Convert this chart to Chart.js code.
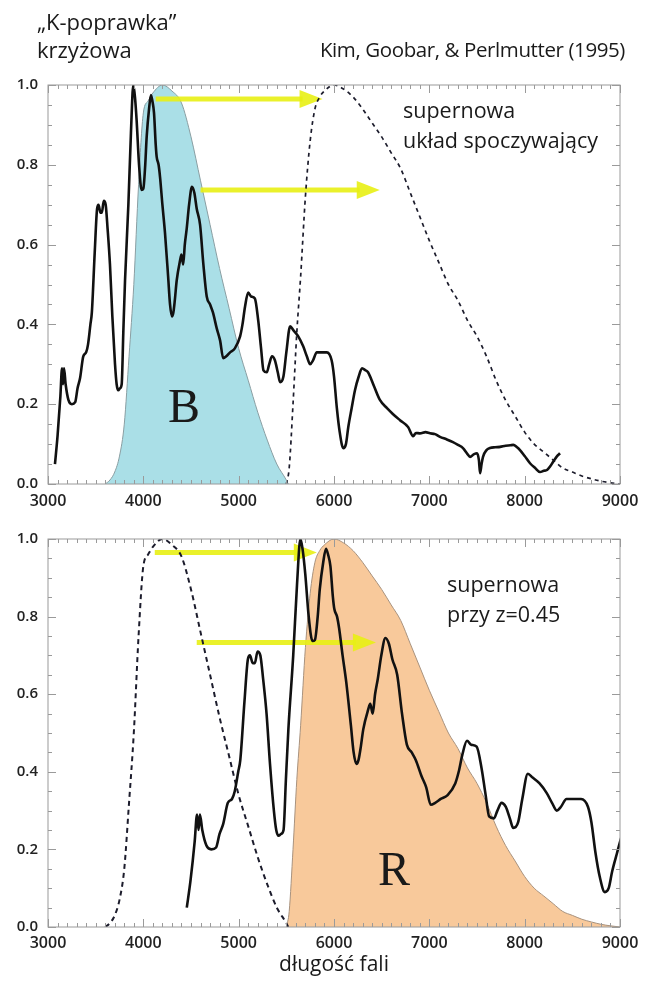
<!DOCTYPE html>
<html lang="pl">
<head>
<meta charset="utf-8">
<script src="https://cdn.jsdelivr.net/npm/chart.js@4/dist/chart.umd.min.js"></script>
<style>
  body { margin: 0; background: #fff; }
  #wrap { position: relative; width: 653px; height: 983px; overflow: hidden; font-family: "Open Sans", sans-serif; color: #1a1a1a; }
  canvas { position: absolute; left: 0; }
  #top { top: 0; }
  #bottom { top: 520px; }
  .txt { position: absolute; z-index: 2; white-space: nowrap; }
  .big { font-family: "Liberation Serif", serif; font-size: 48px; line-height: 1; transform: translate(-50%, -50%); }
</style>
</head>
<body>
<div id="wrap">
  <canvas id="top" width="653" height="520"></canvas>
  <canvas id="bottom" width="653" height="463"></canvas>

  <div class="txt" style="left:37px; top:7px; font-size:22px; line-height:28px;">„K-poprawka”<br>krzyżowa</div>
  <div class="txt" style="right:28px; top:35px; font-size:20.5px; line-height:28px; letter-spacing:-0.4px;">Kim, Goobar, &amp; Perlmutter (1995)</div>
  <div class="txt" style="left:403px; top:95px; font-size:21.5px; line-height:30px;">supernowa<br>układ spoczywający</div>
  <div class="txt" style="left:447px; top:569px; font-size:21.5px; line-height:30px;">supernowa<br>przy z=0.45</div>
  <div class="txt big" style="left:184px; top:406px;">B</div>
  <div class="txt big" style="left:394px; top:869px;">R</div>
</div>

<script>
// --- widmo supernowej w układzie spoczynkowym (Å, strumień względny) ---
const specWave = [3073, 3100, 3130, 3147, 3158, 3168, 3185, 3215, 3250, 3285, 3310, 3336, 3370, 3400, 3420, 3445, 3460, 3490, 3515, 3530,
  3550, 3565, 3585, 3605, 3625, 3650, 3675, 3703, 3720, 3737, 3755, 3773, 3790, 3808, 3843, 3870, 3895, 3912, 3930, 3955,
  3982, 4000, 4020, 4035, 4060, 4080, 4095, 4112, 4130, 4140, 4160, 4175, 4200, 4227, 4260, 4280, 4300, 4315, 4330, 4350,
  4385, 4400, 4418, 4435, 4455, 4480, 4510, 4535, 4560, 4595, 4630, 4665, 4700, 4730, 4770, 4805, 4838, 4870, 4910, 4960,
  5015, 5040, 5067, 5100, 5130, 5170, 5205, 5235, 5260, 5295, 5320, 5350, 5380, 5410, 5435, 5470, 5500, 5540, 5575, 5625,
  5677, 5715, 5750, 5780, 5820, 5870, 5925, 5975, 6000, 6030, 6060, 6097, 6125, 6150, 6185, 6220, 6260, 6294, 6330, 6357,
  6420, 6483, 6556, 6620, 6692, 6777, 6830, 6860, 6902, 6960, 7007, 7060, 7112, 7180, 7248, 7300, 7353, 7400, 7427, 7470,
  7500, 7520, 7532, 7548, 7563, 7600, 7636, 7690, 7742, 7800, 7850, 7880, 7920, 7951, 8000, 8056, 8110, 8161, 8200, 8234,
  8270, 8297, 8340, 8371];
const specFlux = [0.05, 0.12, 0.22, 0.29, 0.25, 0.29, 0.25, 0.21, 0.20, 0.205, 0.24, 0.265, 0.32, 0.33, 0.35, 0.40, 0.43, 0.58, 0.69, 0.70,
  0.68, 0.68, 0.71, 0.70, 0.64, 0.55, 0.42, 0.30, 0.25, 0.235, 0.24, 0.25, 0.38, 0.51, 0.70, 0.88, 1.0, 0.97, 0.91, 0.80,
  0.737, 0.74, 0.80, 0.87, 0.94, 0.975, 0.96, 0.93, 0.85, 0.82, 0.80, 0.77, 0.70, 0.63, 0.52, 0.45, 0.42, 0.43, 0.46, 0.51,
  0.56, 0.575, 0.55, 0.60, 0.64, 0.70, 0.745, 0.73, 0.69, 0.65, 0.55, 0.47, 0.45, 0.43, 0.39, 0.36, 0.315, 0.32, 0.33, 0.34,
  0.37, 0.40, 0.445, 0.48, 0.47, 0.465, 0.41, 0.34, 0.285, 0.28, 0.30, 0.32, 0.31, 0.28, 0.255, 0.27, 0.33, 0.395, 0.385, 0.37,
  0.345, 0.32, 0.30, 0.31, 0.33, 0.33, 0.33, 0.31, 0.27, 0.19, 0.13, 0.09, 0.10, 0.143, 0.19, 0.235, 0.27, 0.29, 0.285, 0.28,
  0.245, 0.21, 0.19, 0.175, 0.16, 0.143, 0.12, 0.128, 0.127, 0.13, 0.127, 0.125, 0.118, 0.112, 0.105, 0.098, 0.09, 0.075, 0.068, 0.075,
  0.077, 0.06, 0.027, 0.05, 0.068, 0.085, 0.09, 0.092, 0.093, 0.096, 0.097, 0.098, 0.092, 0.085, 0.07, 0.052, 0.04, 0.03, 0.033, 0.035,
  0.045, 0.055, 0.07, 0.077];

// --- filtr B ---
const bWave = [3600, 3650, 3700, 3750, 3800, 3850, 3900, 3950, 4000, 4050, 4100, 4200, 4300, 4400, 4500, 4600, 4700, 4800, 4900, 5000, 5100, 5200, 5300, 5400, 5500, 5520];
const bResp = [0, 0.01, 0.03, 0.07, 0.15, 0.32, 0.5, 0.75, 0.93, 0.96, 0.98, 1.0, 0.985, 0.955, 0.87, 0.76, 0.65, 0.54, 0.44, 0.34, 0.26, 0.18, 0.11, 0.05, 0.01, 0];

// --- filtr R ---
const rWave = [5500, 5530, 5570, 5610, 5650, 5700, 5750, 5800, 5850, 5900, 6000, 6100, 6200, 6300, 6400, 6500, 6600, 6700, 6800, 6900,
  7000, 7100, 7200, 7300, 7400, 7500, 7600, 7700, 7800, 7900, 8000, 8100, 8200, 8300, 8400, 8500, 8600, 8700, 8800, 8900, 9000];
const rResp = [0, 0.04, 0.2, 0.38, 0.52, 0.72, 0.86, 0.94, 0.97, 0.985, 1.0, 0.99, 0.97, 0.94, 0.905, 0.87, 0.83, 0.79, 0.73, 0.67,
  0.61, 0.555, 0.50, 0.46, 0.41, 0.37, 0.32, 0.26, 0.21, 0.17, 0.13, 0.10, 0.08, 0.06, 0.04, 0.03, 0.02, 0.013, 0.007, 0.003, 0];

const redshift = 0.45;

// strzałki: od / do (Å), wysokość
const topArrows = [{ from: 4130, to: 5880, y: 0.965 }, { from: 4600, to: 6480, y: 0.737 }];
const bottomArrows = [{ from: 4120, to: 5820, y: 0.965 }, { from: 4560, to: 6440, y: 0.733 }];

const xTicks = { min: 3000, max: 9000, step: 1000 };
const yTicks = { min: 0, max: 1, step: 0.2 };

const pts = (xs, ys) => xs.map((x, i) => ({ x: x, y: ys[i] }));
const labelFont = { family: '"Open Sans", sans-serif', weight: '600' };

// ramka + drobne kreski osi
const framePlugin = {
    id: 'frame',
    afterDraw(chart) {
        const { ctx, chartArea: a, scales } = chart;
        ctx.save();
        ctx.strokeStyle = '#9a9a9a';
        ctx.lineWidth = 1;
        ctx.strokeRect(a.left, a.top, a.right - a.left, a.bottom - a.top);
        ctx.beginPath();
        for (let v = xTicks.min; v <= xTicks.max; v += 100) {
            const px = Math.round(scales.x.getPixelForValue(v)) + 0.5;
            const len = v % 1000 === 0 ? 8 : 4;
            ctx.moveTo(px, a.bottom); ctx.lineTo(px, a.bottom - len);
            ctx.moveTo(px, a.top); ctx.lineTo(px, a.top + len);
        }
        for (let k = 0; k <= 20; k++) {
            const py = Math.round(scales.y.getPixelForValue(k * 0.05)) + 0.5;
            const len = k % 4 === 0 ? 8 : 4;
            ctx.moveTo(a.left, py); ctx.lineTo(a.left + len, py);
            ctx.moveTo(a.right, py); ctx.lineTo(a.right - len, py);
        }
        ctx.stroke();
        ctx.restore();
    }
};

function arrowPlugin(list) {
    return {
        id: 'arrows',
        afterDatasetDraw(chart, args) {
            if (args.index !== 2) return;
            const { ctx, scales } = chart;
            ctx.save();
            ctx.fillStyle = 'rgba(232, 240, 20, 0.9)';
            ctx.strokeStyle = 'rgba(232, 240, 20, 0.9)';
            ctx.lineWidth = 5;
            list.forEach(a => {
                const x1 = scales.x.getPixelForValue(a.from);
                const x2 = scales.x.getPixelForValue(a.to);
                const y = scales.y.getPixelForValue(a.y);
                ctx.beginPath();
                ctx.moveTo(x1, y); ctx.lineTo(x2 - 20, y);
                ctx.stroke();
                ctx.beginPath();
                ctx.moveTo(x2, y); ctx.lineTo(x2 - 23, y - 9); ctx.lineTo(x2 - 23, y + 9);
                ctx.closePath();
                ctx.fill();
            });
            ctx.restore();
        }
    };
}

function scalesFor(xPad, xHeight, title) {
    return {
        x: {
            type: 'linear', min: xTicks.min, max: xTicks.max,
            grid: { display: false, drawTicks: false }, border: { display: false },
            ticks: { stepSize: xTicks.step, padding: xPad, color: '#222', font: { ...labelFont, size: 16 }, callback: v => String(v) },
            title: title ? { display: true, text: title, color: '#1a1a1a', font: { family: '"Open Sans", sans-serif', size: 21, weight: '500' }, padding: { top: 0, bottom: 5 } } : { display: false },
            afterFit: s => { s.height = xHeight; }
        },
        y: {
            min: yTicks.min, max: yTicks.max,
            grid: { display: false, drawTicks: false }, border: { display: false },
            ticks: { stepSize: yTicks.step, padding: 10, color: '#222', font: { ...labelFont, size: 15 }, callback: v => v.toFixed(1) },
            afterFit: s => { s.width = 48; }
        }
    };
}

const line = (data, extra) => Object.assign({
    data: data, pointRadius: 0, fill: false, cubicInterpolationMode: 'monotone'
}, extra);

// --- górny wykres: układ spoczynkowy ---
new Chart(document.getElementById('top'), {
    type: 'line',
    data: {
        datasets: [
            line(pts(specWave, specFlux), { borderColor: '#111', borderWidth: 2.6 }),
            line(pts(rWave, rResp), { borderColor: '#1c1c2c', borderWidth: 1.7, borderDash: [4, 4] }),
            line(pts(bWave, bResp), { borderColor: '#8a9ea2', borderWidth: 1, backgroundColor: '#aadfe7', fill: 'origin' })
        ]
    },
    options: {
        responsive: false, animation: false,
        layout: { padding: { top: 85, right: 33, bottom: 0, left: 0 } },
        plugins: { legend: { display: false }, tooltip: { enabled: false } },
        scales: scalesFor(8, 36, null)
    },
    plugins: [framePlugin, arrowPlugin(topArrows)]
});

// --- dolny wykres: supernowa przy z = 0.45 ---
new Chart(document.getElementById('bottom'), {
    type: 'line',
    data: {
        datasets: [
            line(pts(specWave.map(w => w * (1 + redshift)), specFlux), { borderColor: '#111', borderWidth: 2.6 }),
            line(pts(bWave, bResp), { borderColor: '#1c1c2c', borderWidth: 2, borderDash: [5, 4] }),
            line(pts(rWave, rResp), { borderColor: '#a8927e', borderWidth: 1, backgroundColor: '#f8c99b', fill: 'origin' })
        ]
    },
    options: {
        responsive: false, animation: false,
        layout: { padding: { top: 9, right: 33, bottom: 0, left: 0 } },
        plugins: { legend: { display: false }, tooltip: { enabled: false } },
        scales: scalesFor(7, 56, 'długość fali')
    },
    plugins: [framePlugin, arrowPlugin(bottomArrows)]
});
</script>
</body>
</html>
